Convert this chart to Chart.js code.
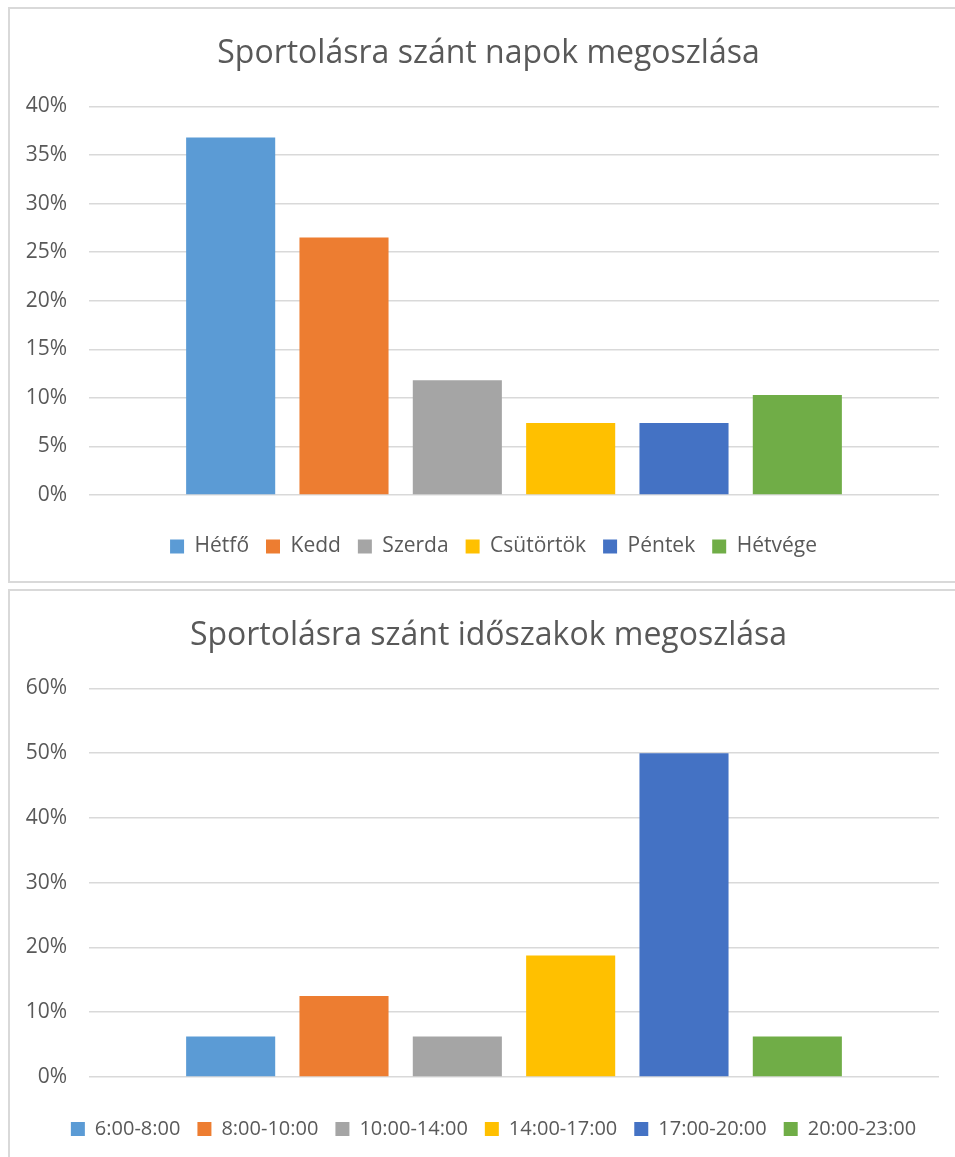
<!DOCTYPE html>
<html>
<head>
<meta charset="utf-8">
<script src="https://cdn.jsdelivr.net/npm/chart.js@4"></script>
<style>
    body { margin: 0; background: #fff; }
    .box {
        position: absolute;
        left: 8px;
        width: 952px;
        height: 576px;
        border: 2px solid #d9d9d9;
        box-sizing: border-box;
        background: #fff;
    }
    .box canvas { display: block; }
</style>
</head>
<body>
<div class="box" style="top:7px"><canvas id="daysChart"></canvas></div>
<div class="box" style="top:589px"><canvas id="timesChart"></canvas></div>
<script>
// Sportolási napok / időszakok (%)
const dayLabels = ['Hétfő', 'Kedd', 'Szerda', 'Csütörtök', 'Péntek', 'Hétvége'];
const dayValues = [36.8, 26.5, 11.8, 7.4, 7.4, 10.3];
const dayAxisMax = 40;
const dayAxisStep = 5;

const timeLabels = ['6:00-8:00', '8:00-10:00', '10:00-14:00', '14:00-17:00', '17:00-20:00', '20:00-23:00'];
const timeValues = [6.25, 12.5, 6.25, 18.75, 50, 6.25];
const timeAxisMax = 60;
const timeAxisStep = 10;

const seriesColors = ['#5B9BD5', '#ED7D31', '#A5A5A5', '#FFC000', '#4472C4', '#70AD47'];

const textColor = '#595959';
const gridColor = '#d9d9d9';
const fontFamily = '"Open Sans", "DejaVu Sans", sans-serif';

// Excel centres title/legend a bit right of the canvas middle
const shiftBoxes = {
    id: 'shiftBoxes',
    afterLayout(chart) {
        if (chart.titleBlock) {
            chart.titleBlock.left += 14;
            chart.titleBlock.right += 14;
        }
        if (chart.legend) {
            chart.legend.left += 19;
            chart.legend.right += 19;
        }
    }
};

function buildChart(canvasId, title, labels, values, max, step, legendSize) {
    const ctx = document.getElementById(canvasId);

    // one dataset per category, like the Excel series
    const datasets = labels.map((label, i) => ({
        label: label,
        data: [values[i]],
        backgroundColor: seriesColors[i],
        borderWidth: 0,
        categoryPercentage: 0.8,
        barPercentage: 0.786
    }));

    return new Chart(ctx, {
        type: 'bar',
        data: {
            labels: [''],
            datasets: datasets
        },
        plugins: [shiftBoxes],
        options: {
            responsive: true,
            maintainAspectRatio: false,
            animation: false,
            layout: {
                padding: { top: 0, right: 19, bottom: 14, left: 0 }
            },
            plugins: {
                title: {
                    display: true,
                    text: title,
                    color: textColor,
                    font: { family: fontFamily, size: 32, weight: 'normal' },
                    padding: { top: 26, bottom: 33 }
                },
                legend: {
                    position: 'bottom',
                    labels: {
                        color: textColor,
                        font: { family: fontFamily, size: legendSize },
                        boxWidth: 14,
                        boxHeight: 14,
                        padding: 17
                    }
                },
                tooltip: { enabled: false }
            },
            scales: {
                x: {
                    // empty axis, only keeps the gap above the legend
                    display: true,
                    ticks: { display: false },
                    grid: { display: false },
                    border: { display: false },
                    afterFit: function(scale) {
                        scale.height = 24 + (21 - legendSize);
                    }
                },
                y: {
                    min: 0,
                    max: max,
                    ticks: {
                        stepSize: step,
                        padding: 22,
                        color: textColor,
                        font: { family: fontFamily, size: 21 },
                        callback: function(value) {
                            return value + '%';
                        }
                    },
                    grid: {
                        color: gridColor,
                        lineWidth: 1.5,
                        drawTicks: false
                    },
                    border: { display: false },
                    afterFit: function(scale) {
                        scale.width = 79;
                    }
                }
            }
        }
    });
}

buildChart('daysChart', 'Sportolásra szánt napok megoszlása', dayLabels, dayValues, dayAxisMax, dayAxisStep, 21);
buildChart('timesChart', 'Sportolásra szánt időszakok megoszlása', timeLabels, timeValues, timeAxisMax, timeAxisStep, 20);
</script>
</body>
</html>
